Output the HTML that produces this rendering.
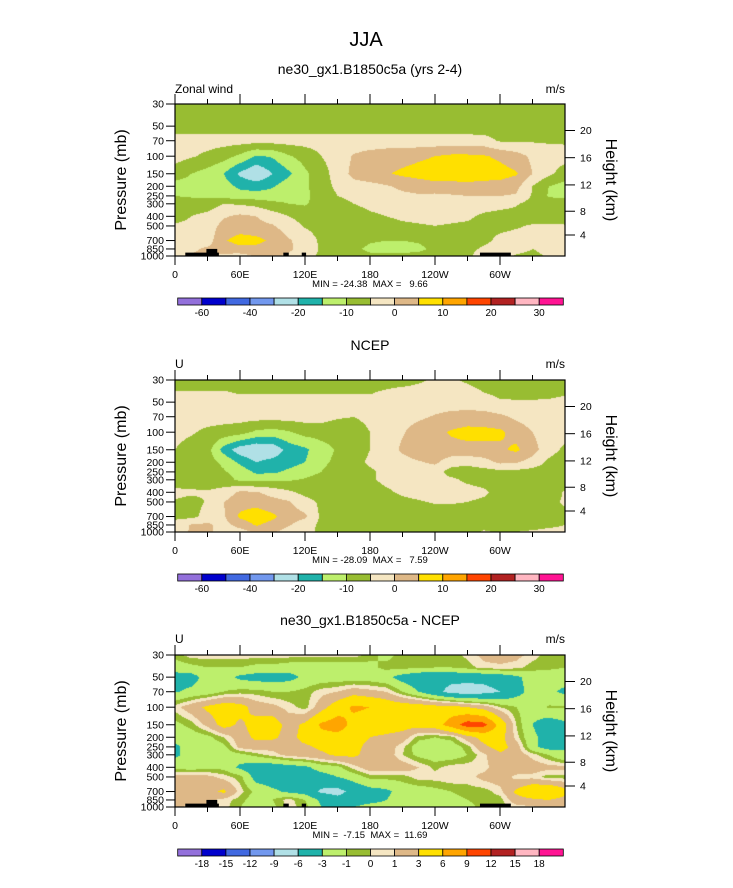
<!DOCTYPE html>
<html><head><meta charset="utf-8">
<style>
html,body{margin:0;padding:0;background:#fff;}
#wrap{position:relative;width:733px;height:888px;overflow:hidden;font-family:"Liberation Sans",sans-serif;}
canvas{position:absolute;left:175px;}
svg{position:absolute;left:0;top:0;}
svg text{white-space:pre;}
</style></head>
<body>
<div id="wrap">
<canvas id="c0" width="390" height="152" style="top:104px"></canvas>
<canvas id="c1" width="390" height="152" style="top:380px"></canvas>
<canvas id="c2" width="390" height="152" style="top:655px"></canvas>
<svg id="svg" width="733" height="888" xmlns="http://www.w3.org/2000/svg" xml:space="preserve">
<text x="366" y="46" font-size="20" text-anchor="middle">JJA</text>
<text x="370" y="74" font-size="14" text-anchor="middle">ne30_gx1.B1850c5a (yrs 2-4)</text>
<text x="370" y="350" font-size="14" text-anchor="middle">NCEP</text>
<text x="370" y="625" font-size="14" text-anchor="middle">ne30_gx1.B1850c5a - NCEP</text>
<text x="175" y="93" font-size="12">Zonal wind</text>
<text x="565" y="93" font-size="12" text-anchor="end">m/s</text>
<text x="175" y="368" font-size="12">U</text>
<text x="565" y="368" font-size="12" text-anchor="end">m/s</text>
<text x="175" y="643" font-size="12">U</text>
<text x="565" y="643" font-size="12" text-anchor="end">m/s</text>
<text x="370" y="287" font-size="9.5" text-anchor="middle">MIN = -24.38  MAX =   9.66</text>
<text x="370" y="563" font-size="9.5" text-anchor="middle">MIN = -28.09  MAX =   7.59</text>
<text x="370" y="838" font-size="9.5" text-anchor="middle">MIN =  -7.15  MAX =  11.69</text>
</svg>
</div>
<script>
// ---- data ----
const lonGrid = [0,15,30,45,60,75,90,105,120,135,150,165,180,195,210,225,240,255,270,285,300,315,330,345,360];
const presGrid = [30,40,50,70,100,150,200,250,300,400,500,700,850,1000];
const uModel = [
[-8,-8,-8,-8,-8,-8,-8,-8,-8,-8,-8,-8,-8,-8,-8,-8,-8,-8,-8,-8,-8,-8,-8,-8,-8],
[-8,-8,-8,-8,-8,-8,-8,-8,-8,-8,-8,-8,-8,-8,-8,-8,-8,-8,-8,-8,-8,-8,-8,-8,-8],
[-7.5,-7.5,-7.5,-7.5,-7.5,-7.5,-7.5,-7.5,-7.5,-7.5,-7.5,-7.5,-7.5,-7.5,-7.5,-7.5,-7.5,-7.5,-7.5,-8,-8,-8,-8,-8,-8],
[-3,-3,-3,-3,-3,-3,-3,-3,-3,-3,-3,-3,-3,-3,-3,-3,-3,-3,-3,-3,-5.5,-5.5,-5.5,-5.5,-5.5],
[-3,-4.5,-6,-8,-11,-15.5,-14.5,-10.5,-8,-5,-3,0.5,2,3,3,4,5,6,6,5.5,4,2,-1,-3,-3.5],
[-7.5,-10,-12,-15,-21,-25,-20,-16,-11,-7,-3,1.5,3,4.5,6,7,8,8,8,7.5,7,5.5,0,-4,-7],
[-12,-12,-12,-13,-16,-17,-15.5,-12,-11,-7,-4,-2,-1.5,-0.5,1,2,3,3,3.5,3,3,1.5,-5,-10,-12],
[-10,-10.5,-11,-12,-13,-13,-13,-12,-11,-8,-5,-3.5,-2,-1.5,-1,-0.5,-1,-0.5,0,0,0,-0.5,-5.5,-10.5,-11],
[-8,-8,-7.5,-5,-5.5,-6.5,-8.5,-10,-10.5,-8,-7,-5,-3.5,-3,-2.5,-2.5,-2,-2,-2,-2.5,-3,-4.5,-7,-7.5,-7.5],
[-8,-5,-3.5,-0.5,1,0,-2.5,-5,-7,-8,-8,-8,-6,-5,-4,-3.5,-3.5,-3.5,-4,-6,-7,-7,-7.5,-8,-8],
[-4,-3,-2.5,1.5,2.5,1.5,0.5,-2.5,-5.5,-7,-8,-8,-8,-7,-6,-5.5,-5,-5.5,-6,-7,-6.5,-5.5,-4.5,-4,-4.5],
[-3,-3,-2.5,4.5,7,6.5,4,0.5,-2,-6,-8,-8,-9.5,-10,-10,-9.5,-8,-8,-7.5,-6.5,-3.5,-3,-3,-3,-3],
[-3,-1,1,2,3.5,3.5,2,1,-2.5,-5.5,-8,-9,-11,-11.5,-11.5,-11,-9,-8,-7,-4,-2,-2,-5,-3,-3],
[-3,0.5,1,-1,-2,0.5,1,-1,-3,-6,-8,-8,-9,-9,-9,-8.5,-8,-8,-7.5,0.5,-1,-6,-7,-4,-3]
];
const uNcep = [
[-8,-8,-8,-8,-8,-8,-8,-8,-8,-8,-8,-8,-8,-8,-8,-6,-4,-4,-6,-8,-8,-8,-8,-8,-8],
[-4.5,-4.5,-4.5,-4.5,-5.5,-5.5,-5.5,-5.5,-5.5,-5.5,-5.5,-5.5,-5.5,-4,-2.5,-2.5,-2.5,-2.5,-2.5,-5,-6,-6.5,-6.5,-6,-5.5],
[-3,-3,-3,-3,-3,-3,-3,-3,-3,-3,-3,-3,-3,-3,-3,-3,-3,-3,-3,-3,-4.5,-4.5,-4.5,-4.5,-4],
[-3,-3,-3,-3,-3,-3,-3,-3,-3,-3,-4.5,-5,-4,-3,-2,-1,0.5,2,2.5,2,1,-1,-2.5,-3,-3],
[-3.5,-4.5,-6,-7,-8,-11,-12,-10.5,-8,-8,-8,-7,-5,-3,-0.5,2.5,3.5,5.5,6.5,6.5,6,3,0,-3,-3],
[-5,-7,-8,-17,-23,-25,-24,-18,-16,-12,-9.5,-8,-5,-3,1,3.5,3.5,3.5,3.5,3.5,4,6,2,-3,-6],
[-8,-8,-8,-11,-16,-20,-18,-17,-15,-11,-9,-7,-4,-3,-2,-0.5,1,-3,-3.5,-2,1,0.5,-2,-6,-8],
[-8,-8,-8,-9.5,-12,-16,-16,-14,-12,-10,-8,-7.5,-6,-3.5,-2.5,-2.5,-3,-7,-7.5,-7,-6.5,-6.5,-7,-8,-8],
[-8,-8,-8,-8,-11,-11.5,-10.5,-10.5,-9.5,-8,-8,-8,-6,-3.5,-3,-3,-3,-4,-6,-7,-8,-8,-8,-8,-8],
[-3.5,-4,-4.5,-3,1,0.5,-2,-4,-6.5,-8,-8,-8,-8,-6,-4,-3,-3,-3,-3,-4,-7,-8,-8,-7.5,-4.5],
[-5.5,-7,-4.5,0,3,3.5,2,0.5,-3,-6,-8,-8,-8,-8,-6.5,-5.5,-4.5,-4.5,-5,-6,-8,-8,-7,-6,-4.5],
[-6,-6.5,-3,-0.5,6,7.5,6,2.5,1,-6,-8,-8,-8,-8,-8,-8,-8,-8,-8,-9.5,-10,-8,-8,-7,-6],
[-3.5,0.5,1,-2,2,5.5,3.5,0.5,-3,-6,-8,-8,-8,-8,-8,-8,-8,-8,-8,-8,-8,-8,-8,-6.5,-5],
[-2,0.5,1,-2,-2.5,1,0.5,-2,-3.5,-6,-8,-8,-8,-8,-8,-8,-8,-8,-8,-4,-6,-5,-4,-3,-3]
];
const uDiff = [
[-0.5,0.5,0.5,0.5,0.5,0.5,0.5,0.5,0.5,0.5,0.5,0.5,-0.5,-1.5,-0.5,-0.5,-0.5,-0.5,0.3,1.5,2,1.5,0.5,-0.5,-0.5],
[-2,-1.5,-1,-1,-1,-1.5,-1.5,-2,-2,-2,-2,-2,-1.5,-0.5,-0.5,-0.8,-1,-1,-0.5,0.5,0.6,0.4,-0.5,-0.7,-1],
[-4,-4,-2,-2,-3.5,-4,-4,-3.8,-2.5,-2,-2,-2,-2,-2.5,-4,-5,-5,-5,-5,-5,-4.5,-3.5,-2,-2,-2],
[-3.2,-2.5,-2,-1,-0.5,-0.5,-1,-1,-0.5,0.5,1,2,1.5,1,-1,-3,-5,-7,-7.5,-7,-6,-4,-2,-2.5,-3.5],
[0.5,2,3.5,4.5,4,2,1.5,0.5,-0.5,2,4.5,6.5,6,5,4.5,4.5,4,4,3,2,0,-1,-2,-0.8,-0.8],
[-1.5,-0.5,1.5,4,2.5,4,4.5,2,3.5,6.5,7.5,5,4.5,4.5,4,4,4.5,7.5,10.5,10,5,0,-3,-4.5,-3.5],
[-2,-2,-1.5,0,2,3.5,3.5,2,4,5,5,4.5,3,2.5,2,-0.5,-1,-0.5,2,4,4,0.5,-2.5,-4,-3.5],
[-3.5,-2,-2,-1.5,1.5,2,1.5,2,2.5,3.5,4,4,2,2,0.3,-2,-2,-2,-0.5,2.5,4,2,-2.5,-4,-3],
[-3.5,-2,-2,-2,-1.5,-0.5,0.5,1.5,2,2.5,3.5,3.5,2,2,0,-1.5,-2,-2,-1,0.7,2.5,2,0.5,-1,-3],
[-1.5,-2,-1.5,-1.5,-3.5,-4.5,-4.5,-4,-3.5,-2,-1.5,0.5,2,2,2,1,-0.3,0.5,0.5,0.5,2,2.5,2,1.5,1.5],
[1.5,2,1.5,0.5,-0.5,-4,-4.5,-4.5,-4.5,-4,-3,-2,-0.5,-0.5,-0.5,0.5,0.5,0.8,0.5,1.5,2,0.5,0.5,-0.5,-0.5],
[2,2.5,2,3.5,0.5,-1.5,-2.5,-3.5,-4,-6.5,-7,-5,-4,-3.5,-2,-2,-1.5,-1,-0.5,-0.5,0.5,3.5,5.5,6,4],
[1.5,2,1.5,0.5,-0.5,-2,-1,0.5,-1,-3.5,-5,-4.5,-4,-3,-2,-2,-2.5,-1.5,-1,-0.5,-0.5,2,2.5,3,2],
[1.5,0.5,1.5,0.5,-1,-2,-1.5,0.5,-0.5,-3,-4,-3,-2,-2,-2,-2,-2,-2,-1.5,-0.5,-0.5,0.5,0.8,1.5,1]
];
const levelsAbs = [-60,-50,-40,-30,-20,-15,-10,-5,0,5,10,15,20,25,30];
const levelsDiff = [-18,-15,-12,-9,-6,-3,-1,0,1,3,6,9,12,15,18];
const labelIdxAbs = [0,2,4,6,8,10,12,14];
const labelIdxDiff = [0,1,2,3,4,5,6,7,8,9,10,11,12,13,14];
const palette = ["#9370db","#0000cd","#4169e1","#7298ee","#b0e0e6","#20b2aa","#bdef6c","#98bd32","#f5e6c2","#deb887","#ffe000","#ffa500","#ff4500","#b22222","#ffb6c1","#ff1493"];
const pTickVals = [30,50,70,100,150,200,250,300,400,500,700,850,1000];
const hTickKm = [20,16,12,8,4];
const hTickPres = [55.3,103.5,194,356,616];
const lonTickVals = [0,60,120,180,240,300];
const lonTickLabels = ["0","60E","120E","180","120W","60W"];
const lonMinor = [30,90,150,210,270,330];
// terrain: [lonStart, lonEnd, topPressure]
const terrain = [[9.5,40.5,925],[29,39,849],[100,105,925],[117,121,925],[281.5,310,925]];

// ---- geometry ----
const PL=175, PW=390, PH=152;
const panelTops=[104,380,655];
const cbTops=[298,574,849];
function xLon(lon){return PL+lon/360*PW;}
function yP(top,p){return top+Math.log(p/30)/Math.log(1000/30)*PH;}

function sample(grid,lon,p){
  let c=lon/15; let ci=Math.min(Math.floor(c),23); let s=c-ci;
  let k=0; while(k<presGrid.length-2 && p>presGrid[k+1]) k++;
  let t=(Math.log(p)-Math.log(presGrid[k]))/(Math.log(presGrid[k+1])-Math.log(presGrid[k]));
  t=Math.max(0,Math.min(1,t));
  const a=grid[k][ci],b=grid[k][ci+1],cc=grid[k+1][ci],d=grid[k+1][ci+1];
  return (a*(1-s)+b*s)*(1-t)+(cc*(1-s)+d*s)*t;
}
function binColor(v,levels){let i=0;while(i<levels.length&&v>=levels[i])i++;return palette[i];}

const panels=[[uModel,levelsAbs,true],[uNcep,levelsAbs,false],[uDiff,levelsDiff,true]];
panels.forEach((pn,idx)=>{
  const cv=document.getElementById('c'+idx), ctx=cv.getContext('2d');
  const img=ctx.createImageData(PW,PH);
  const cache={};
  for(let j=0;j<PH;j++){
    const p=30*Math.pow(1000/30,(j+0.5)/PH);
    for(let i=0;i<PW;i++){
      const lon=(i+0.5)/PW*360;
      const col=binColor(sample(pn[0],lon,p),pn[1]);
      let rgb=cache[col]; if(!rgb){rgb=[parseInt(col.substr(1,2),16),parseInt(col.substr(3,2),16),parseInt(col.substr(5,2),16)];cache[col]=rgb;}
      const o=(j*PW+i)*4; img.data[o]=rgb[0];img.data[o+1]=rgb[1];img.data[o+2]=rgb[2];img.data[o+3]=255;
    }
  }
  ctx.putImageData(img,0,0);
});

const svg=document.getElementById('svg');
const NS="http://www.w3.org/2000/svg";
function mk(tag,attrs,parent){const e=document.createElementNS(NS,tag);for(const k in attrs)e.setAttribute(k,attrs[k]);(parent||svg).appendChild(e);return e;}

panels.forEach((pn,idx)=>{
  const top=panelTops[idx], bot=top+PH;
  const g=mk('g',{});
  
  
  if(pn[2]){
    terrain.forEach(tr=>{
      const r=mk('rect',{x:xLon(tr[0]),y:yP(top,tr[2]),width:xLon(tr[1])-xLon(tr[0]),height:bot-yP(top,tr[2]),fill:'#000'},g);
      
      
    });
  }
  const fr=mk('rect',{x:PL,y:top,width:PW,height:PH,fill:'none',stroke:'#000','stroke-width':1.2},g);
  
  
  lonTickVals.forEach((lon,i)=>{
    const x=xLon(lon);
    mk('line',{x1:x,y1:top,x2:x,y2:top-10,stroke:'#000','stroke-width':1},g);
    mk('line',{x1:x,y1:bot,x2:x,y2:bot+9,stroke:'#000','stroke-width':1},g);
    const t=mk('text',{x:x,y:bot+22,'font-size':10.5,'text-anchor':'middle'},g);
    t.textContent=lonTickLabels[i];
    
    
  });
  lonMinor.forEach(lon=>{
    const x=xLon(lon);
    mk('line',{x1:x,y1:top,x2:x,y2:top-5,stroke:'#000','stroke-width':1},g);
    mk('line',{x1:x,y1:bot,x2:x,y2:bot+5,stroke:'#000','stroke-width':1},g);
  });
  pTickVals.forEach(p=>{
    const y=yP(top,p);
    mk('line',{x1:PL,y1:y,x2:PL-9,y2:y,stroke:'#000','stroke-width':1},g);
    const t=mk('text',{x:164,y:y+3.6,'font-size':10.5,'text-anchor':'end'},g);
    t.textContent=String(p);
    
    
  });
  hTickPres.forEach((p,i)=>{
    const y=yP(top,p);
    mk('line',{x1:PL+PW,y1:y,x2:PL+PW+10,y2:y,stroke:'#000','stroke-width':1},g);
    const t=mk('text',{x:580,y:y+3.6,'font-size':10.5},g);
    t.textContent=String(hTickKm[i]);
    
    
  });
  const cy=top+PH/2;
  const yt=mk('text',{x:0,y:0,'font-size':16,'text-anchor':'middle',transform:`translate(126,${cy}) rotate(-90)`},g);
  yt.textContent='Pressure (mb)';
  
  
  const yr=mk('text',{x:0,y:0,'font-size':16,'text-anchor':'middle',transform:`translate(606,${cy}) rotate(90)`},g);
  yr.textContent='Height (km)';
  
  
  // colorbar
  const levels=pn[1], labIdx=idx==2?labelIdxDiff:labelIdxAbs;
  const cbL=177.7, cbW=385.6, bw=cbW/palette.length, ct=cbTops[idx];
  const cb=mk('g',{},g);
  
  
  palette.forEach((c,i)=>{
    const r=mk('rect',{x:cbL+i*bw,y:ct,width:bw,height:7,fill:c,stroke:'#000','stroke-width':0.8},cb);
    
    
  });
  labIdx.forEach(li=>{
    const t=mk('text',{x:cbL+(li+1)*bw,y:ct+18,'font-size':10,'text-anchor':'middle'},cb);
    t.textContent=String(levels[li]);
    
    
  });
});
</script>
</body></html>
